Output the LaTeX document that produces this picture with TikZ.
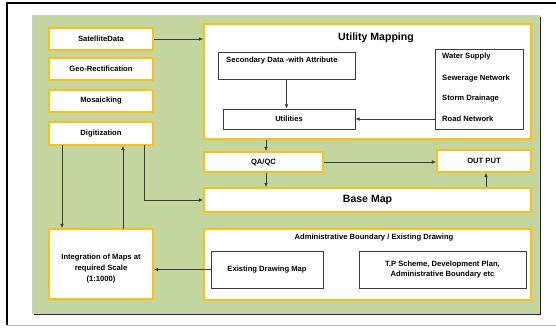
\documentclass[tikz,border=0pt]{standalone}
\usepackage{fontspec}
\setmainfont{Liberation Sans}
\usepackage{tikz}
\usetikzlibrary{arrows.meta, positioning}
\definecolor{panelgreen}{RGB}{196,214,160}
\definecolor{boxyellow}{RGB}{250,192,20}
\definecolor{linegray}{RGB}{60,60,60}

\begin{document}
\begin{tikzpicture}[x=0.03cm, y=-0.03cm,
    ybox/.style={rectangle, draw=boxyellow, line width=1.4pt, fill=white, inner sep=0pt},
    kbox/.style={rectangle, draw=linegray, line width=0.5pt, fill=white, inner sep=0pt},
    txt/.style={font=\fontsize{6.5}{9}\selectfont\bfseries, inner sep=0pt},
    bigtxt/.style={font=\fontsize{9}{11}\selectfont\bfseries, inner sep=0pt},
    arr/.style={-{Latex[length=1.3mm,width=1.1mm]}, draw=linegray, line width=0.6pt}]
    \useasboundingbox (0,0) rectangle (556,327);

    % Outer frame
    \draw[gray!60, line width=0.5pt] (7,325) -- (556,325);
    \draw[black, line width=1.2pt] (7,325) -- (7,3) -- (556,3);

    % Green panel with shadow
    \fill[black!85] (34,17) rectangle (541,315);
    \filldraw[fill=panelgreen, draw=gray!40, line width=0.4pt] (32,15) rectangle (539,313);

    % Left column
    \node[ybox, minimum width=3.12cm, minimum height=0.66cm] (sat) at (101,39) {};
    \node[txt] at (sat) {SatelliteData};
    \node[ybox, minimum width=3.12cm, minimum height=0.66cm] (geo) at (101,69) {};
    \node[txt] at (geo) {Geo-Rectification};
    \node[ybox, minimum width=3.12cm, minimum height=0.66cm] (mosaic) at (101,101) {};
    \node[txt] at (mosaic) {Mosaicking};
    \node[ybox, minimum width=3.12cm, minimum height=0.69cm] (digit) at (101,133.5) {};
    \node[txt] at (digit) {Digitization};
    \node[ybox, minimum width=3.12cm, minimum height=2.1cm] (integ) at (101,264) {};
    \node[txt, align=center] (integtxt) at (101,268.5) {Integration of Maps at\\required Scale\\(1:1000)};

    % Utility mapping
    \node[ybox, minimum width=9.81cm, minimum height=3.45cm] (util) at (367.5,81.5) {};
    \node[bigtxt] (utiltitle) at (376,38) {Utility Mapping};
    \node[kbox, minimum width=4.11cm, minimum height=0.81cm] (secdata) at (286.5,65.5) {};
    \node[txt, anchor=west] (secdatatxt) at (226,61) {Secondary Data -with Attribute};
    \node[kbox, minimum width=3.96cm, minimum height=0.6cm] (utilities) at (289,119) {};
    \node[txt] at (utilities) {Utilities};
    \node[kbox, minimum width=2.64cm, minimum height=2.4cm] (network) at (479,89) {};
    \foreach \name/\y in {Water Supply/57, Sewerage Network/79, Storm Drainage/99, Road Network/119}
        \node[txt, anchor=west] at (442,\y) {\name};

    % QA/QC, output, base map
    \node[ybox, minimum width=3.57cm, minimum height=0.6cm] (qaqc) at (263.5,162) {};
    \node[txt] at (qaqc) {QA/QC};
    \node[ybox, minimum width=2.82cm, minimum height=0.66cm] (output) at (484,161) {};
    \node[txt] at (output) {OUT PUT};
    \node[ybox, minimum width=9.81cm, minimum height=0.72cm] (basemap) at (367.5,200) {};
    \node[bigtxt] at (basemap) {Base Map};

    % Administrative boundary
    \node[ybox, minimum width=9.81cm, minimum height=2.13cm] (admin) at (367.5,264.5) {};
    \node[txt] (admintitle) at (374,238) {Administrative Boundary / Existing Drawing};
    \node[kbox, minimum width=3.36cm, minimum height=1.11cm] (existing) at (267,269.5) {};
    \node[txt] at (existing) {Existing Drawing Map};
    \node[kbox, minimum width=5.01cm, minimum height=1.11cm] (tpscheme) at (442.5,269.5) {};
    \node[txt, align=center] at (tpscheme) {T.P Scheme, Development Plan,\\Administrative Boundary etc};

    % Tap points under Digitization / above Integration
    \coordinate (dleft) at (62,145);
    \coordinate (dright) at (144,145);
    \coordinate (iup) at (123,229);

    % Connectors
    \draw[arr] (sat.east) -- (sat.east -| util.west);
    \draw[arr] (secdata.south) -- (secdata.south |- utilities.north);
    \draw[arr] (network.west |- utilities.east) -- (utilities.east);
    \draw[arr] (util.south -| 266,0) -- (266,0 |- qaqc.north);
    \draw[arr] (qaqc.east) -- (qaqc.east -| output.west);
    \draw[arr] (266,0 |- qaqc.south) -- (266,0 |- basemap.north);
    \draw[arr] (486,0 |- basemap.north) -- (486,0 |- output.south);
    \draw[arr] (dright) |- (basemap.west);
    \draw[arr] (dleft) -- (dleft |- integ.north);
    \draw[arr] (iup) -- (iup |- digit.south);
    \draw[arr] (existing.west) -- (existing.west -| integ.east);
\end{tikzpicture}
\end{document}
